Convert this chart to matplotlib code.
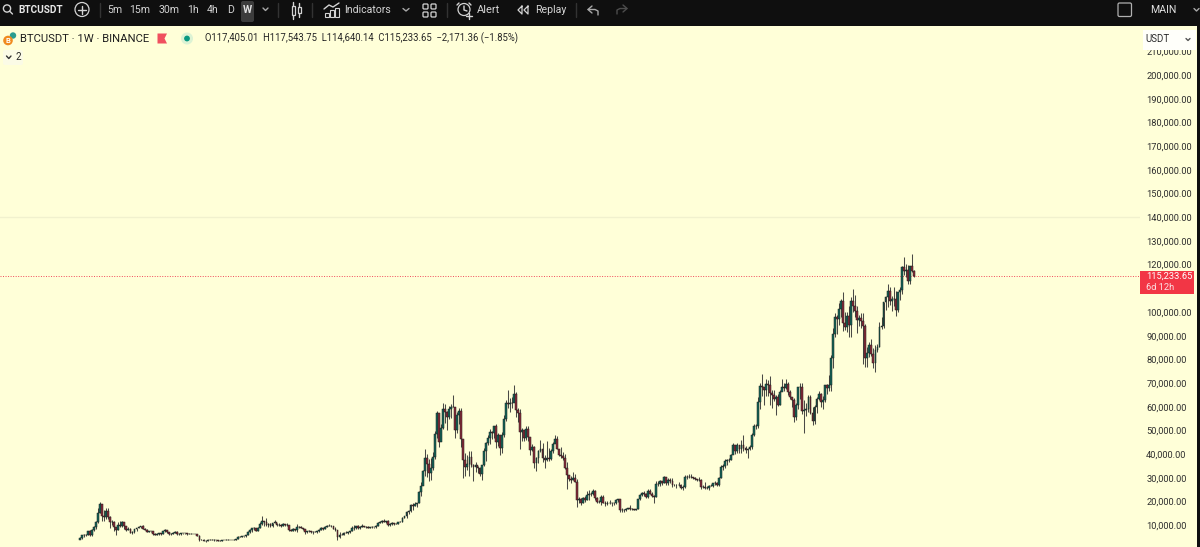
import matplotlib
matplotlib.use('Agg')
import matplotlib.pyplot as plt
from matplotlib.patches import Rectangle, Circle, Polygon, FancyBboxPatch

plt.rcParams['font.family'] = ['Roboto', 'DejaVu Sans']

# weekly BTCUSDT candles, thousands of USDT, by calendar year
close_2017 = [4.6, 5.7, 6.0, 5.75, 7.4, 5.8, 8.0, 9.3, 11.4, 15.0, 19.0, 14.0, 13.7]
high_2017 = [4.9, 6.0, 6.2, 6.5, 7.6, 7.9, 8.3, 9.8, 11.9, 17.2, 19.8, 19.0, 16.5]
low_2017 = [4.1, 4.2, 5.1, 5.4, 5.7, 5.3, 5.6, 7.8, 8.5, 10.9, 15.0, 11.8, 12.0]

close_2018 = [16.2, 13.6, 11.5, 11.4, 9.1, 8.1, 10.3, 9.6, 11.4, 9.5,
              8.2, 8.6, 6.9, 7.0, 8.3, 8.9, 9.3, 9.6, 8.5, 8.2,
              7.3, 7.7, 7.6, 6.5, 6.1, 6.4, 6.7, 6.3, 7.4, 8.2,
              7.0, 6.3, 6.4, 6.7, 7.3, 6.3, 6.5, 6.7, 6.6, 6.6,
              6.3, 6.4, 6.4, 6.4, 6.4, 5.6, 3.9, 4.0, 3.5, 3.2,
              4.0, 3.8]
high_2018 = [17.3, 17.2, 14.0, 12.2, 11.7, 9.1, 11.3, 11.8, 11.7, 11.6,
             9.9, 9.2, 8.7, 7.5, 8.5, 9.0, 9.8, 9.9, 10.0, 8.9,
             8.4, 7.8, 7.8, 7.7, 6.8, 6.6, 6.8, 6.8, 7.6, 8.5,
             8.2, 7.1, 6.6, 7.0, 7.4, 7.4, 6.6, 6.8, 6.8, 6.7,
             6.7, 6.7, 6.6, 6.5, 6.5, 6.4, 5.7, 4.4, 4.3, 3.6,
             4.4, 4.2]
low_2018 = [12.7, 12.8, 9.0, 10.0, 7.6, 6.0, 8.0, 9.4, 9.3, 8.3,
            7.6, 8.0, 6.6, 6.4, 6.7, 7.8, 8.7, 8.7, 8.3, 7.9,
            7.1, 7.0, 7.3, 6.1, 5.7, 5.8, 6.1, 6.1, 6.3, 7.3,
            6.8, 5.9, 6.0, 6.3, 6.6, 6.1, 6.1, 6.1, 6.5, 6.4,
            6.1, 6.2, 6.3, 6.2, 6.3, 5.3, 3.5, 3.6, 3.4, 3.1,
            3.2, 3.6]

close_2019 = [4.0, 3.6, 3.6, 3.5, 3.4, 3.7, 3.7, 3.8, 3.9, 3.9,
              4.0, 4.0, 4.1, 5.1, 5.1, 5.3, 5.3, 5.8, 7.2, 8.0,
              8.7, 8.7, 7.6, 8.9, 10.7, 11.9, 11.3, 10.2, 10.7, 9.5,
              10.8, 11.3, 10.3, 10.1, 9.6, 10.4, 10.3, 10.0, 8.0, 7.8,
              8.3, 7.9, 9.2, 9.2, 8.8, 8.5, 7.3, 7.4, 7.5, 7.1,
              7.2, 7.3]
high_2019 = [4.1, 4.1, 3.8, 3.7, 3.6, 3.7, 3.7, 4.2, 4.2, 3.9,
             4.0, 4.1, 4.1, 5.3, 5.5, 5.4, 5.6, 5.9, 7.4, 8.3,
             8.9, 9.1, 8.8, 9.4, 11.2, 13.9, 12.0, 13.2, 11.1, 10.9,
             11.0, 12.3, 11.1, 10.9, 10.7, 10.9, 10.6, 10.8, 10.1, 8.5,
             8.8, 8.4, 10.5, 9.6, 9.5, 8.8, 8.5, 7.8, 7.9, 7.4,
             7.5, 7.6]
low_2019 = [3.6, 3.5, 3.5, 3.4, 3.3, 3.4, 3.6, 3.6, 3.7, 3.7,
            3.7, 3.9, 3.9, 4.1, 4.9, 4.9, 5.2, 5.2, 5.7, 6.6,
            7.0, 8.0, 7.4, 7.5, 8.8, 10.3, 9.7, 9.8, 9.3, 9.2,
            9.4, 10.9, 9.5, 9.8, 9.3, 9.6, 9.9, 9.6, 7.7, 7.7,
            7.7, 7.8, 7.3, 9.0, 8.7, 8.0, 6.5, 6.9, 7.2, 6.9,
            6.5, 7.0]

close_2020 = [7.4, 8.2, 8.7, 8.6, 9.3, 9.9, 9.9, 9.7, 8.6, 8.0,
              5.2, 5.8, 5.9, 6.8, 6.9, 7.0, 7.5, 8.9, 8.7, 9.7,
              8.7, 9.4, 9.7, 9.3, 9.3, 9.0, 9.1, 9.3, 9.2, 9.9,
              11.1, 11.6, 11.9, 11.6, 11.7, 10.2, 10.7, 11.1, 10.7, 10.7,
              11.4, 11.5, 13.1, 13.8, 15.5, 16.0, 18.7, 18.2, 19.0, 19.2,
              23.9, 26.4]
high_2020 = [7.5, 8.5, 9.2, 8.8, 9.6, 10.2, 10.4, 10.2, 9.7, 9.2,
             8.2, 7.0, 6.9, 7.3, 7.5, 7.3, 7.8, 9.5, 10.0, 9.9,
             10.0, 9.6, 10.4, 9.9, 9.6, 9.8, 9.3, 9.5, 9.4, 10.0,
             11.4, 11.9, 12.1, 12.5, 11.8, 12.1, 10.8, 11.2, 11.1, 10.9,
             11.5, 11.7, 13.4, 14.0, 15.9, 16.5, 18.9, 19.5, 19.9, 19.4,
             24.3, 28.4]
low_2020 = [6.9, 7.3, 8.0, 8.2, 8.3, 9.1, 9.7, 9.3, 8.5, 7.6,
            3.8, 4.5, 5.7, 5.9, 6.6, 6.5, 6.8, 7.4, 8.1, 8.4,
            8.6, 8.6, 9.3, 9.2, 8.9, 8.8, 8.9, 9.0, 9.0, 9.0,
            9.8, 11.0, 11.1, 11.4, 11.1, 9.9, 9.9, 10.2, 10.1, 10.4,
            10.5, 11.2, 11.3, 12.9, 13.2, 14.8, 15.7, 16.3, 18.0, 17.6,
            19.3, 22.2]

close_2021 = [33.0, 38.2, 36.0, 32.1, 34.3, 39.0, 48.6, 57.4, 45.2, 51.2,
              59.0, 57.6, 55.8, 59.0, 59.8, 60.0, 50.1, 56.6, 58.2, 46.4,
              37.5, 34.6, 35.8, 39.0, 35.6, 34.7, 35.3, 34.2, 31.5, 35.4,
              41.5, 44.6, 47.0, 49.3, 48.9, 51.8, 45.2, 48.3, 42.7, 48.2,
              54.9, 61.5, 61.3, 61.8, 61.5, 65.5, 58.6, 57.3, 49.4, 50.1,
              46.7, 50.8]
high_2021 = [33.3, 42.0, 40.1, 37.9, 38.5, 40.9, 49.7, 58.4, 52.6, 52.6,
             61.7, 61.2, 58.4, 60.2, 61.2, 64.9, 57.5, 57.9, 59.6, 59.5,
             45.8, 40.4, 39.5, 41.3, 41.3, 35.7, 36.6, 35.1, 34.6, 35.4,
             42.6, 45.3, 48.1, 50.5, 49.9, 51.9, 52.9, 48.8, 45.0, 49.3,
             56.5, 62.9, 67.0, 63.7, 64.3, 69.0, 66.3, 59.5, 59.1, 51.0,
             49.5, 51.9]
low_2021 = [27.7, 30.6, 30.4, 28.9, 29.2, 33.4, 38.0, 46.9, 43.0, 46.3,
            50.5, 53.3, 50.4, 54.9, 55.4, 59.8, 47.0, 48.8, 52.9, 42.9,
            30.0, 31.0, 33.4, 31.0, 34.8, 28.8, 32.7, 32.1, 30.7, 29.3,
            35.0, 37.3, 43.8, 44.4, 46.4, 47.0, 42.8, 43.4, 39.6, 40.7,
            47.1, 53.9, 59.5, 57.6, 59.4, 62.7, 55.6, 53.8, 42.0, 45.7,
            45.5, 46.0]

close_2022 = [47.3, 41.9, 43.1, 36.3, 38.4, 41.4, 42.2, 38.4, 37.7, 38.4,
              37.8, 41.3, 44.5, 46.4, 42.2, 39.7, 39.4, 38.5, 34.0, 31.3,
              29.4, 29.0, 29.9, 28.4, 20.5, 21.0, 19.3, 21.6, 20.8, 22.6,
              23.3, 23.2, 24.4, 21.5, 20.0, 20.0, 21.8, 19.4, 18.9, 19.4,
              19.4, 19.3, 19.6, 20.6, 20.9, 16.3, 16.3, 16.4, 17.0, 17.1,
              16.8, 16.8]
high_2022 = [52.1, 44.0, 44.5, 43.5, 38.9, 41.7, 45.8, 44.8, 39.8, 45.4,
             42.6, 42.4, 45.0, 48.2, 47.5, 41.6, 42.9, 41.0, 40.0, 36.7,
             31.4, 30.7, 32.4, 31.8, 29.5, 22.0, 21.5, 21.9, 22.5, 24.3,
             24.7, 24.0, 25.2, 25.0, 21.8, 20.6, 22.8, 22.8, 20.3, 20.4,
             20.5, 19.9, 19.7, 20.9, 21.1, 21.0, 17.1, 16.8, 17.4, 17.4,
             18.4, 17.1]
low_2022 = [45.7, 39.7, 41.2, 34.0, 33.0, 36.2, 41.1, 36.9, 34.3, 37.0,
            37.1, 37.6, 40.5, 44.9, 42.1, 39.2, 38.5, 37.5, 33.7, 25.4,
            28.6, 28.0, 29.3, 28.2, 17.6, 19.6, 18.6, 19.3, 19.8, 20.7,
            20.7, 22.4, 22.7, 20.8, 19.5, 19.5, 18.5, 19.3, 18.1, 18.5,
            18.9, 18.2, 18.7, 19.1, 20.0, 15.6, 15.8, 15.5, 16.0, 16.7,
            16.3, 16.4]

close_2023 = [16.6, 16.9, 20.9, 22.7, 23.7, 23.3, 21.8, 24.6, 23.2, 22.4,
              21.9, 27.4, 27.5, 28.5, 28.0, 30.4, 27.8, 29.2, 28.9, 26.8,
              27.1, 26.9, 27.1, 25.9, 26.3, 30.5, 30.5, 30.3, 30.3, 30.0,
              29.4, 29.0, 29.3, 26.1, 26.0, 25.9, 25.9, 26.5, 26.5, 28.0,
              27.9, 27.1, 29.9, 34.5, 35.0, 37.1, 37.4, 37.4, 39.5, 43.8,
              41.4, 43.7]
high_2023 = [16.8, 17.0, 21.3, 23.4, 23.9, 24.3, 23.5, 25.2, 25.3, 23.9,
             22.6, 28.8, 28.9, 29.2, 28.6, 31.0, 30.5, 30.0, 29.9, 29.8,
             27.6, 27.5, 28.4, 27.4, 26.8, 31.4, 31.4, 31.5, 31.8, 30.3,
             30.3, 29.7, 30.2, 29.7, 26.8, 28.1, 26.4, 26.9, 27.5, 28.0,
             28.6, 28.1, 30.4, 35.3, 35.9, 37.9, 37.9, 38.4, 40.2, 44.7,
             43.4, 44.7]
low_2023 = [16.3, 16.5, 16.9, 20.8, 22.3, 22.5, 21.6, 21.4, 23.1, 21.9,
            19.6, 21.8, 26.6, 26.6, 27.2, 27.8, 27.1, 26.9, 27.7, 26.3,
            26.5, 25.9, 26.5, 25.3, 24.8, 25.7, 29.5, 29.8, 30.1, 29.5,
            29.1, 28.6, 28.7, 25.2, 25.6, 25.3, 25.3, 24.9, 26.4, 26.0,
            27.2, 26.5, 26.7, 29.8, 33.4, 34.1, 35.5, 36.7, 37.5, 39.9,
            40.2, 40.5]

close_2024 = [42.3, 43.9, 42.8, 41.6, 42.0, 43.0, 48.3, 52.1, 51.7, 62.0,
              68.9, 68.4, 67.2, 69.6, 69.4, 65.7, 65.0, 63.1, 64.0, 60.8,
              66.3, 68.5, 67.8, 69.6, 66.2, 64.2, 62.7, 55.9, 60.8, 68.2,
              68.2, 58.2, 58.7, 58.9, 64.2, 57.3, 54.1, 60.0, 63.5, 65.6,
              62.1, 63.0, 69.0, 68.0, 69.4, 80.4, 90.6, 97.9, 97.2, 101.2,
              104.5, 95.2, 93.7]
high_2024 = [44.0, 45.9, 48.0, 43.6, 42.6, 44.0, 48.8, 52.8, 52.9, 64.0,
             70.0, 73.8, 68.2, 71.6, 71.3, 72.8, 67.2, 67.2, 65.0, 65.5,
             67.0, 71.9, 70.0, 71.9, 70.6, 67.0, 63.8, 63.9, 61.4, 68.4,
             70.0, 70.0, 62.7, 61.8, 65.0, 64.9, 59.8, 60.6, 64.1, 66.5,
             66.0, 64.5, 69.4, 69.5, 73.6, 81.8, 93.3, 99.6, 98.9, 104.0,
             105.3, 108.3, 99.9]
low_2024 = [40.5, 40.7, 41.5, 40.3, 38.5, 41.9, 42.3, 47.7, 50.5, 50.9,
            59.0, 64.5, 60.8, 64.5, 64.5, 60.6, 59.6, 62.4, 56.6, 60.2,
            60.6, 66.5, 66.6, 67.6, 65.0, 63.4, 60.0, 53.5, 54.3, 59.0,
            63.5, 57.1, 49.0, 56.1, 58.0, 57.1, 52.5, 52.6, 57.5, 62.7,
            60.0, 58.9, 62.0, 65.2, 66.8, 66.8, 76.5, 89.4, 90.8, 94.5,
            98.1, 92.1, 92.5]

close_2025 = [98.4, 94.5, 104.5, 102.6, 100.6, 96.5, 97.6, 96.3, 94.2, 80.7,
              82.6, 86.1, 82.4, 78.4, 83.8, 85.2, 93.7, 94.3, 104.1, 106.4,
              109.0, 104.6, 105.7, 105.6, 101.0, 108.3, 109.2, 119.0, 117.3, 117.9,
              113.3, 119.3, 117.4, 115.23365]
high_2025 = [99.9, 102.7, 106.4, 109.6, 107.0, 102.5, 98.8, 99.5, 99.5, 95.0,
             85.3, 87.5, 88.7, 84.7, 86.0, 86.5, 95.7, 97.9, 104.4, 106.7,
             111.9, 110.7, 106.8, 110.4, 108.9, 108.5, 110.5, 119.5, 123.2, 120.2,
             119.8, 119.3, 124.5, 117.54375]
low_2025 = [91.5, 89.3, 89.3, 100.0, 97.8, 91.2, 94.1, 93.4, 78.2, 76.6,
            76.6, 81.1, 81.6, 76.2, 74.5, 83.2, 85.1, 92.8, 93.4, 100.7,
            102.0, 103.1, 100.4, 102.6, 98.2, 100.0, 105.1, 107.5, 115.7, 114.7,
            112.0, 111.9, 116.8, 114.64014]

# 110,000 is hidden behind the last price label in the reference
price_ticks = [10, 20, 30, 40, 50, 60, 70, 80, 90, 100, 120, 130, 140, 150,
               160, 170, 180, 190, 200, 210]
last_price = 115.23365
toolbar_left = [('5m', 115), ('15m', 140), ('30m', 169), ('1h', 193), ('4h', 213), ('D', 231)]
ohlc_text = 'O117,405.01  H117,543.75  L114,640.14  C115,233.65  \u22122,171.36 (\u22121.85%)'

closes = (close_2017 + close_2018 + close_2019 + close_2020 + close_2021
          + close_2022 + close_2023 + close_2024 + close_2025)
highs = (high_2017 + high_2018 + high_2019 + high_2020 + high_2021
         + high_2022 + high_2023 + high_2024 + high_2025)
lows = (low_2017 + low_2018 + low_2019 + low_2020 + low_2021
        + low_2022 + low_2023 + low_2024 + low_2025)
opens = [3.9] + closes[:-1]

BG = '#FFFFD8'
DARK = '#0F0F0F'
UP = '#14665A'
DOWN = '#8A2B3A'
WICK = '#4A4A46'
GREY = '#D4D4D4'

fig = plt.figure(figsize=(12, 5.47), dpi=100, facecolor=BG)

# price pane, x is the candle number, y is thousands of USDT
ax = fig.add_axes([0, 0, 1140 / 1200, 521 / 547], facecolor=BG)
n = len(closes)
ax.set_xlim(n - 1 - 914 / 2.03, n - 1 + 226 / 2.03)
ax.set_ylim(0.84, 220.7)
for s in ax.spines.values():
    s.set_visible(False)
ax.set_xticks([])
ax.set_yticks(price_ticks)
ax.set_yticklabels(['{:,.2f}'.format(t * 1000) for t in price_ticks])
ax.yaxis.tick_right()
ax.tick_params(axis='y', length=0, pad=4.5, labelsize=6.7, labelcolor='#2E2E2E')

ax.axhline(140, color='#F1F1CE', lw=1, zorder=1)
ax.axhline(last_price, color='#F0495A', lw=0.7, ls=(0, (1, 1.6)), zorder=1)

xs = list(range(n))
ax.vlines(xs, lows, highs, color=WICK, lw=0.75, zorder=2)
colors = [UP if c >= o else DOWN for o, c in zip(opens, closes)]
bottoms = [min(o, c) for o, c in zip(opens, closes)]
heights = [abs(c - o) for o, c in zip(opens, closes)]
ax.bar(xs, heights, bottom=bottoms, width=0.9, color=colors, edgecolor='#1C1C1A',
       linewidth=0.35, zorder=3)

# toolbar, legend and price labels go on top in pixel coordinates
ui = fig.add_axes([0, 0, 1, 1], facecolor='none')
ui.set_xlim(0, 1200)
ui.set_ylim(547, 0)
ui.axis('off')


def line(xx, yy, c=GREY, lw=1.0):
    ui.plot(xx, yy, color=c, lw=lw, solid_capstyle='round')


def label(x, y, s, size=7.6, c=GREY, ha='center', weight='normal'):
    ui.text(x, y, s, fontsize=size, color=c, ha=ha, va='center', fontweight=weight)


ui.add_patch(Rectangle((0, 0), 1200, 25.5, color=DARK, lw=0))
ui.add_patch(Rectangle((1197, 0), 3, 547, color=DARK, lw=0))

ui.add_patch(Circle((7, 8.5), 3.6, fill=False, ec=GREY, lw=1))
line([9.7, 12.5], [11.2, 14])
label(18, 10, 'BTCUSDT', 7.2, '#E8E8E8', 'left', 'bold')
ui.add_patch(Circle((82, 9.5), 7, fill=False, ec=GREY, lw=0.9))
line([78, 86], [9.5, 9.5])
line([82, 82], [5.5, 13.5])
line([100, 100], [3, 17], '#333333')

for name, px in toolbar_left:
    label(px, 10, name)
ui.add_patch(FancyBboxPatch((241, 1), 13, 21, boxstyle='round,pad=0,rounding_size=2',
                            color='#3C3C3C', lw=0))
label(247.5, 10, 'W', 7.6, '#E0E0E0', weight='bold')
line([263, 265.5, 268], [8, 10.5, 8], '#A8A8A8')
line([278, 278], [3, 17], '#333333')

ui.add_patch(Rectangle((291.5, 6), 3, 9, fill=False, ec=GREY, lw=0.9))
line([293, 293], [2, 6])
line([293, 293], [15, 19])
ui.add_patch(Rectangle((297.5, 7), 3, 6, fill=False, ec=GREY, lw=0.9))
line([299, 299], [3, 7])
line([299, 299], [13, 17])
line([312, 312], [3, 17], '#333333')

for bx, top in [(325, 13), (330, 10), (335, 8)]:
    ui.add_patch(Rectangle((bx, top), 3.5, 17 - top, fill=False, ec=GREY, lw=0.8))
line([324, 329, 333, 339], [9, 5, 7, 3])
label(344, 10, 'Indicators', ha='left')
line([403, 406, 409], [8.5, 11, 8.5], '#A8A8A8')
for gx in (423, 431):
    for gy in (4, 12):
        ui.add_patch(FancyBboxPatch((gx, gy), 5, 5, boxstyle='round,pad=0,rounding_size=1',
                                    fill=False, ec=GREY, lw=0.9))
line([447, 447], [3, 17], '#333333')

ui.add_patch(Circle((464, 9.5), 6, fill=False, ec=GREY, lw=0.9))
line([464, 464, 467], [6, 10, 11])
line([459, 457], [3, 5])
line([469, 471], [3, 5])
line([466, 472], [16, 16])
line([469, 469], [13, 19])
label(477, 10, 'Alert', 8.0, ha='left')
line([522, 518, 522, 522], [6, 10, 14, 6], GREY, 0.9)
line([528, 524, 528, 528], [6, 10, 14, 6], GREY, 0.9)
label(535, 10, 'Replay', ha='left')
line([576, 576], [3, 17], '#333333')
line([592, 588, 592], [6, 9.5, 13], '#A8A8A8')
line([588, 595, 598, 598], [9.5, 9.5, 11, 15], '#A8A8A8')
line([623, 627, 623], [5, 8.5, 12], '#4C4C4C')
line([627, 620, 617, 617], [8.5, 8.5, 10, 14], '#4C4C4C')

ui.add_patch(FancyBboxPatch((1118, 3), 13.5, 13.5, boxstyle='round,pad=0,rounding_size=1.5',
                            fill=False, ec='#B0B0B0', lw=0.9))
label(1163, 10, 'MAIN', 7.6, '#E0E0E0')
line([1194, 1196.5, 1199], [8.5, 11, 8.5], '#A8A8A8')

# legend row
ui.add_patch(Circle((13, 35.5), 3.2, color='#2A9D8F', lw=0))
ui.add_patch(Circle((8, 40.5), 4.8, color='#F08A1D', lw=0))
ui.text(8, 40.7, 'B', fontsize=5.5, color='white', ha='center', va='center', fontweight='bold')
label(20, 38.5, 'BTCUSDT \u00b7 1W \u00b7 BINANCE', 8.1, '#1F1F1F', 'left')
ui.add_patch(Polygon([(157.5, 33.5), (167, 33.5), (164.5, 38.5), (167, 43.5), (157.5, 43.5)],
                     color='#F0505F', lw=0))
ui.add_patch(Circle((187, 38.5), 6, color='#DCF3D4', lw=0))
ui.add_patch(Circle((187, 38.5), 2.9, color='#089981', lw=0))
label(205, 38.5, ohlc_text, 6.85, '#262626', 'left')

ui.add_patch(FancyBboxPatch((3, 50), 20, 15, boxstyle='round,pad=0,rounding_size=2',
                            color='#FBFBE6', lw=0))
line([6.5, 8.8, 11], [56, 58.5, 56], '#333333')
label(15, 57.5, '2', 7.0, '#262626', 'left')

# scale labels
ui.add_patch(Rectangle((1143, 30), 53, 20, color='#FFFFFA', lw=0))
label(1145, 39.5, 'USDT', 7.0, '#2E2E2E', 'left')
line([1186, 1188, 1190], [38.5, 40.5, 38.5], '#555555')

ui.add_patch(Rectangle((1140, 271), 53.5, 22.5, color='#F23645', lw=0))
label(1146, 276.5, '115,233.65', 6.7, 'white', 'left')
label(1146, 287.5, '6d 12h', 6.7, '#FBE0E3', 'left')

fig.savefig('out.png', dpi=100, facecolor=BG)
